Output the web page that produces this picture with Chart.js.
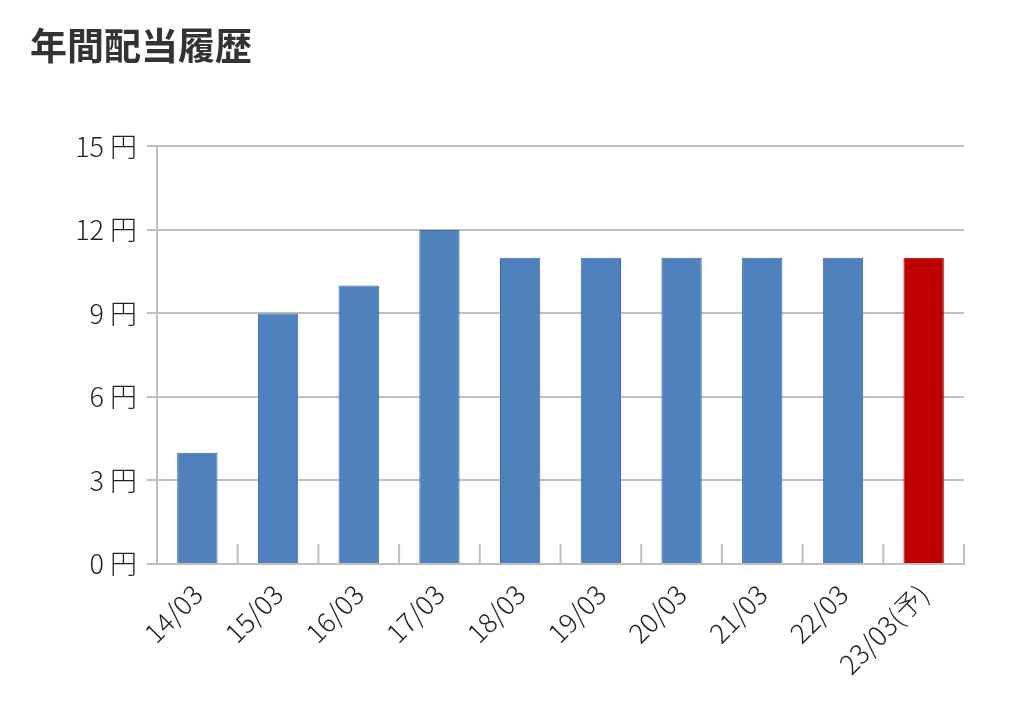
<!DOCTYPE html>
<html><head><meta charset="utf-8">
<script src="https://cdn.jsdelivr.net/npm/chart.js@4"></script>
<style>html,body{margin:0;padding:0;background:#fff}#w{width:1024px;height:727px}</style>
</head><body><div id="w"><canvas id="c"></canvas></div>
<script>
const categories = ["14/03","15/03","16/03","17/03","18/03","19/03","20/03","21/03","22/03","23/03(予)"];
const dividends = [4, 9, 10, 12, 11, 11, 11, 11, 11, 11];
const yTicks = [0, 3, 6, 9, 12, 15];
const barColors = dividends.map((v,i)=> i===categories.length-1 ? "#c00000" : "#4f81bd");
const borderColors = dividends.map((v,i)=> i===categories.length-1 ? "#a00000" : "#3a6aa5");
const F = "'Noto Sans CJK JP','Noto Sans',sans-serif";
const innerTicks = {
  id:'innerTicks',
  afterDatasetsDraw(chart){
    const x = chart.scales.x, ctx = chart.ctx, b = chart.chartArea.bottom;
    ctx.save(); ctx.strokeStyle="#bfbfbf"; ctx.lineWidth=2;
    for(let i=1;i<=categories.length;i++){
      const p = i<categories.length ? (x.getPixelForValue(i-1)+x.getPixelForValue(i))/2 : x.right;
      ctx.beginPath(); ctx.moveTo(p,b); ctx.lineTo(p,b-20); ctx.stroke();
    }
    ctx.restore();
  }
};
new Chart(document.getElementById('c'),{
  type:'bar',
  data:{labels:categories,datasets:[{data:dividends,backgroundColor:barColors,borderColor:borderColors,borderWidth:1,categoryPercentage:1,barPercentage:0.5}]},
  options:{
    responsive:true,maintainAspectRatio:false,animation:false,
    layout:{padding:{left:30,right:60,top:14,bottom:0}},
    plugins:{legend:{display:false},tooltip:{enabled:false},
      title:{display:true,text:"年間配当履歴",align:'start',color:'#333',font:{family:F,size:37,weight:'bold'},padding:{top:10,bottom:78}}},
    scales:{
      x:{grid:{display:false},border:{color:'#bfbfbf',width:2},afterFit:s=>{s.height=163;},
        ticks:{color:'#222',font:{family:F,size:27,weight:'300'},maxRotation:45,minRotation:45,padding:6}},
      y:{min:0,max:15,afterBuildTicks:s=>{s.ticks=yTicks.map(v=>({value:v}));},afterFit:s=>{s.width=127;},
        grid:{color:'#bfbfbf',lineWidth:2,tickLength:10},border:{color:'#bfbfbf',width:2},
        ticks:{color:'#222',font:{family:F,size:27,weight:'300'},padding:10,callback:v=>v+" 円"}}
    }
  },
  plugins:[innerTicks]
});
</script></body></html>
